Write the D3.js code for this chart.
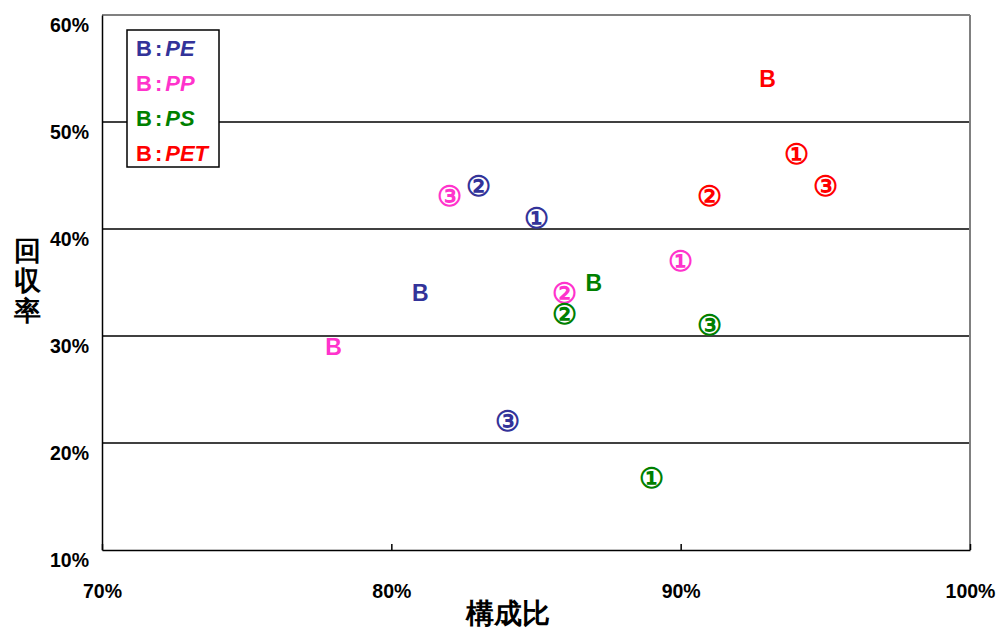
<!DOCTYPE html>
<html>
<head>
<meta charset="utf-8">
<script src="https://cdn.jsdelivr.net/npm/d3@7"></script>
<style>
  body { margin: 0; background: #fff; }
  text { font-family: "Liberation Sans", Arial, sans-serif; }
</style>
</head>
<body>
<svg></svg>
<script>
// series: materials and their colours
var series = ["PE", "PP", "PS", "PET"];
var colors = ["#333399", "#FF33CC", "#008000", "#FF0000"];
// point labels: B, ①, ②, ③
var marks = ["B", "\u2460", "\u2461", "\u2462"];
// 構成比 (%) per series, in marks order
var xPE = [81, 85, 83, 84];
var xPP = [78, 90, 86, 82];
var xPS = [87, 89, 86, 91];
var xPET = [93, 94, 91, 95];
// 回収率 (%) per series, in marks order
var yPE = [34, 41, 44, 22];
var yPP = [29, 37, 34, 43];
var yPS = [35, 16.7, 32, 31];
var yPET = [54, 47, 43, 44];
var xTicks = [70, 80, 90, 100];
var yTicks = [10, 20, 30, 40, 50, 60];

var xs = [xPE, xPP, xPS, xPET], ys = [yPE, yPP, yPS, yPET];
var data = [];
series.forEach(function(s, i) {
  marks.forEach(function(m, j) {
    data.push({ s: i, mark: m, x: xs[i][j], y: ys[i][j] });
  });
});

var svgWidth = 1000, svgHeight = 630;
var margin = { top: 15, right: 30, bottom: 80, left: 102 };
var width = svgWidth - margin.left - margin.right;
var height = svgHeight - margin.top - margin.bottom;

var svg = d3.select("svg")
    .attr("width", svgWidth)
    .attr("height", svgHeight);

var g = svg.append("g")
    .attr("transform", "translate(" + margin.left + "," + margin.top + ")");

var x = d3.scaleLinear().domain([70, 100]).range([0, width]);
var y = d3.scaleLinear().domain([10, 60]).range([height, 0]);

// gridlines
g.append("g")
  .selectAll("line")
  .data(yTicks.slice(1, -1))
  .join("line")
    .attr("x1", 0).attr("x2", width)
    .attr("y1", function(d) { return y(d); })
    .attr("y2", function(d) { return y(d); })
    .attr("stroke", "#000")
    .attr("stroke-width", 1.5);

// frame: top/right grey, left/bottom black
g.append("line").attr("x1", 0).attr("x2", width).attr("y1", 0).attr("y2", 0)
  .attr("stroke", "#808080").attr("stroke-width", 2);
g.append("line").attr("x1", width).attr("x2", width).attr("y1", 0).attr("y2", height)
  .attr("stroke", "#808080").attr("stroke-width", 2);

// x axis
var xAxis = g.append("g")
    .attr("transform", "translate(0," + height + ")")
    .call(d3.axisBottom(x).tickValues(xTicks).tickSizeInner(-6).tickSizeOuter(0)
      .tickFormat(function(d) { return d + "%"; }));
xAxis.select(".domain").attr("stroke", "#000").attr("stroke-width", 1.5);
xAxis.selectAll(".tick line").attr("stroke-width", 1.5);
xAxis.selectAll(".tick text")
    .attr("y", 34)
    .attr("font-size", 19.5)
    .attr("font-weight", "bold")
    .attr("fill", "#000");

// y axis
var yAxis = g.append("g")
    .call(d3.axisLeft(y).tickValues(yTicks).tickSize(0)
      .tickFormat(function(d) { return d + "%"; }));
yAxis.select(".domain").attr("stroke", "#000").attr("stroke-width", 1.5);
yAxis.selectAll(".tick text")
    .attr("x", -13)
    .attr("dy", "0.85em")
    .attr("font-size", 19.5)
    .attr("font-weight", "bold")
    .attr("fill", "#000");

// axis titles
svg.append("text")
    .attr("x", 508)
    .attr("y", 623)
    .attr("text-anchor", "middle")
    .attr("font-family", "Noto Sans CJK JP")
    .attr("font-size", 28)
    .attr("font-weight", "bold")
    .text("構成比");

svg.append("text")
    .attr("x", 27)
    .attr("y", 260)
    .attr("text-anchor", "middle")
    .attr("font-family", "Noto Sans CJK JP")
    .attr("font-size", 27)
    .attr("font-weight", "bold")
    .selectAll("tspan")
    .data(["回", "収", "率"])
    .join("tspan")
      .attr("x", 27)
      .attr("dy", function(d, i) { return i === 0 ? 0 : 30; })
      .text(function(d) { return d; });

// points
g.append("g")
  .selectAll("text")
  .data(data)
  .join("text")
    .attr("x", function(d) { return x(d.x); })
    .attr("y", function(d) { return y(d.y); })
    .attr("text-anchor", "middle")
    .attr("dominant-baseline", "central")
    .attr("font-family", function(d) { return d.mark === "B" ? "Liberation Sans" : "Noto Sans CJK JP"; })
    .attr("font-size", function(d) { return d.mark === "B" ? 23 : 28; })
    .attr("font-weight", "bold")
    .attr("fill", function(d) { return colors[d.s]; })
    .text(function(d) { return d.mark; });

// legend
var legend = svg.append("g").attr("transform", "translate(127,30)");
legend.append("rect")
    .attr("width", 92).attr("height", 137)
    .attr("fill", "#fff")
    .attr("stroke", "#000")
    .attr("stroke-width", 1.5);
var items = legend.selectAll("text.item")
  .data(series)
  .join("text")
    .attr("class", "item")
    .attr("x", 9)
    .attr("y", function(d, i) { return 26 + i * 35; })
    .attr("font-size", 22)
    .attr("font-weight", "bold")
    .attr("fill", function(d, i) { return colors[i]; });
items.append("tspan").text("B");
items.append("tspan").attr("dx", 3).text(":");
items.append("tspan").attr("dx", 3).attr("font-style", "italic").text(function(d) { return d; });
</script>
</body>
</html>
